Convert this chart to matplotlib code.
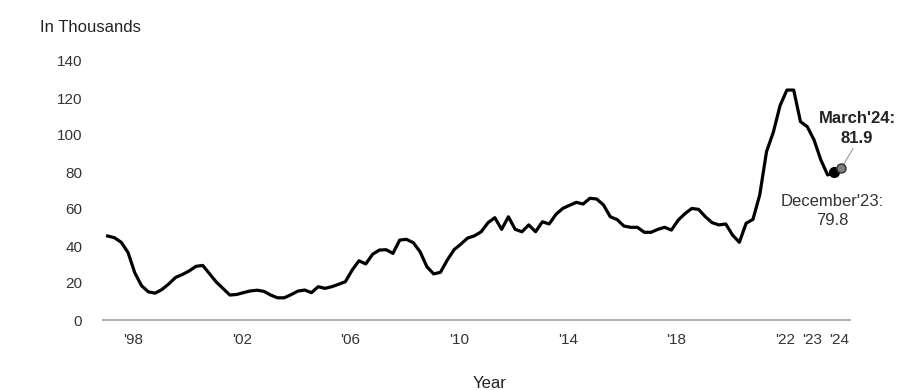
import matplotlib
matplotlib.use("Agg")
import matplotlib.pyplot as plt
import pandas as pd

plt.rcParams['font.family'] = ['Liberation Sans', 'DejaVu Sans']

# Quarterly values (in thousands), Dec 1996 .. Mar 2024
values = [
    45.4, 44.5, 42.0, 36.5, 25.5, 18.5, 15.2, 14.5, 16.5, 19.5,
    23.0, 24.6, 26.5, 29.0, 29.5, 25.0, 20.5, 17.0, 13.5, 13.8,
    14.8, 15.7, 16.1, 15.5, 13.5, 12.0, 12.0, 13.7, 15.6, 16.2,
    14.8, 18.0, 17.1, 18.0, 19.3, 20.7, 27.0, 32.0, 30.3, 35.5,
    37.8, 38.0, 36.0, 43.2, 43.6, 41.8, 36.9, 28.8, 24.9, 25.8,
    32.4, 38.0, 41.0, 44.3, 45.5, 47.7, 52.6, 55.3, 49.0, 55.8,
    49.0, 47.7, 51.4, 47.7, 53.1, 51.9, 57.1, 60.3, 62.0, 63.6,
    62.7, 65.8, 65.4, 62.2, 55.8, 54.3, 50.8, 50.1, 50.1, 47.4,
    47.4, 49.0, 50.1, 48.6, 54.0, 57.5, 60.3, 59.8, 55.8, 52.6,
    51.4, 51.9, 45.9, 42.0, 52.3, 54.4, 67.6, 91.0, 101.5, 116.0,
    124.3, 124.3, 107.2, 104.5, 97.3, 86.5, 78.4, 79.8, 81.9,
]
dates = pd.date_range(start="1997-03-01", periods=len(values), freq="3MS")
xs = [d.year + (d.month - 1) / 12 - 0.1 for d in dates]

tick_years = [1998, 2002, 2006, 2010, 2014, 2018, 2022, 2023, 2024]
tick_labels = ["'98", "'02", "'06", "'10", "'14", "'18", "'22", "'23", "'24"]
y_ticks = [0, 20, 40, 60, 80, 100, 120, 140]

dec_label = "December'23:\n79.8"
mar_label = "March'24:\n81.9"

fig = plt.figure(figsize=(9, 3.9), dpi=100)
ax = fig.add_axes([103 / 900, 70 / 390, 747 / 900, 259 / 390])

ax.plot(xs, values, color="black", lw=2.3, solid_joinstyle="round", zorder=3)
ax.plot(xs[-2], values[-2], 'o', color="black", ms=7, zorder=4)
ax.plot(xs[-1], values[-1], 'o', color="#808080", mec="#303030", mew=1.0, ms=6.5, zorder=5)

ax.set_xlim(1996.896, 2024.389)
ax.set_ylim(0, 140)
ax.set_xticks(tick_years)
ax.set_xticklabels(tick_labels)
ax.set_yticks(y_ticks)
ax.tick_params(axis='both', length=0, labelsize=11, labelcolor="#333333")
ax.tick_params(axis='x', pad=9)
ax.tick_params(axis='y', pad=15)

for s in ["top", "right", "left"]:
    ax.spines[s].set_visible(False)
ax.spines["bottom"].set_color("#b3b3b3")
ax.spines["bottom"].set_linewidth(1.5)

# Annotations
ax.annotate(mar_label, xy=(xs[-1], values[-1]), xytext=(2024.65, 103.5),
            ha="center", va="center", fontsize=12, fontweight="bold",
            color="#222222", linespacing=1.35, annotation_clip=False,
            arrowprops=dict(arrowstyle="-", color="#999999", lw=0.8,
                            shrinkA=0, shrinkB=3,
                            relpos=(0.47, 0.0)))
ax.text(2023.73, 59.0, dec_label, ha="center", va="center", fontsize=12,
        color="#333333", linespacing=1.35, clip_on=False)

fig.text(40 / 900, 1 - 27 / 390, "In Thousands", fontsize=12, color="#222222",
         ha="left", va="center")
fig.text(490 / 900, 1 - 383 / 390, "Year", fontsize=12, color="#222222",
         ha="center", va="center")

fig.savefig("out.png", dpi=100)
